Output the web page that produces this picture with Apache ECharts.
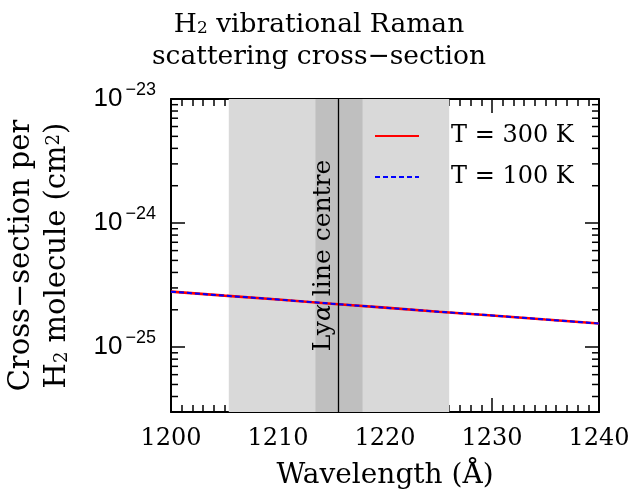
<!DOCTYPE html>
<html>
<head>
<meta charset="utf-8">
<script src="https://cdn.jsdelivr.net/npm/echarts@6/dist/echarts.min.js"></script>
<style>
  html, body { margin: 0; padding: 0; background: #fff; }
  #chart { width: 638px; height: 498px; }
</style>
</head>
<body>
<div id="chart"></div>
<script>
// Wavelength grid (Angstrom) and Raman cross-sections per H2 molecule (cm^2)
const wavelength = [1200, 1205, 1210, 1215, 1220, 1225, 1230, 1235, 1240];
const sigmaT300 = [2.80e-25, 2.60e-25, 2.42e-25, 2.24e-25, 2.08e-25, 1.93e-25, 1.80e-25, 1.67e-25, 1.55e-25];
const sigmaT100 = [2.80e-25, 2.60e-25, 2.42e-25, 2.24e-25, 2.08e-25, 1.93e-25, 1.80e-25, 1.67e-25, 1.55e-25];

// Lyman-alpha centre and shaded wavelength windows
const lyaCentre = 1215.67;
const wideWindow = [1205.4, 1226.0];
const narrowWindow = [1213.5, 1217.9];

// Axis ranges
const xRange = [1200, 1240];
const xMajorStep = 10;
const yRange = [3e-26, 1e-23];
// Logarithmic minor ticks (2..9 within each decade)
const yMinorTicks = [
  4e-26, 5e-26, 6e-26, 7e-26, 8e-26, 9e-26,
  2e-25, 3e-25, 4e-25, 5e-25, 6e-25, 7e-25, 8e-25, 9e-25,
  2e-24, 3e-24, 4e-24, 5e-24, 6e-24, 7e-24, 8e-24, 9e-24
];

const SERIF = 'DejaVu Serif';
const SANS = 'Liberation Sans';
const BLACK = '#000';

// rich-text styles with sub/superscripts for a given base size and line height
function serifRich(size, lh) {
  const small = Math.round(size * 0.63);
  return {
    n: { fontFamily: SERIF, fontSize: size, fontWeight: 'normal', color: BLACK, lineHeight: lh },
    sub: { fontFamily: SERIF, fontSize: small, fontWeight: 'normal', color: BLACK, lineHeight: lh, verticalAlign: 'bottom', padding: [0, 0, Math.round(lh * 0.12), 0] },
    sup: { fontFamily: SERIF, fontSize: small, fontWeight: 'normal', color: BLACK, lineHeight: lh, verticalAlign: 'top', padding: [Math.round(lh * 0.17), 0, 0, 0] }
  };
}

// "10^n" labels at whole decades only
function powerLabel(v) {
  if (!(v > 0) || !isFinite(v)) return '';
  const e = Math.log10(v);
  const r = Math.round(e);
  if (Math.abs(e - r) > 1e-6) return '';
  return '{b|10}{s|\u2212' + (-r) + '}';
}

function xAxisCfg(pos, showLabels) {
  return {
    type: 'value', position: pos, min: xRange[0], max: xRange[1], interval: xMajorStep,
    axisLine: { show: true, onZero: false, lineStyle: { color: BLACK, width: 2 } },
    axisTick: { show: true, inside: true, length: 14, lineStyle: { color: BLACK, width: 1.5 } },
    minorTick: { show: true, splitNumber: 10, length: 7, lineStyle: { color: BLACK, width: 1.5 } },
    splitLine: { show: false }, minorSplitLine: { show: false },
    axisLabel: {
      show: showLabels, margin: 15, fontFamily: SERIF, fontSize: 24, color: BLACK,
      formatter: v => String(v)
    }
  };
}

function yAxisCfg(pos, showLabels) {
  return {
    type: 'log', logBase: 10, position: pos, min: yRange[0], max: yRange[1],
    axisLine: { show: true, onZero: false, lineStyle: { color: BLACK, width: 2 } },
    axisTick: { show: true, inside: true, length: 14, lineStyle: { color: BLACK, width: 1.5 } },
    minorTick: { show: false },
    splitLine: { show: false },
    axisLabel: {
      show: showLabels, interval: 0, margin: 15, formatter: powerLabel,
      rich: {
        b: { fontFamily: SANS, fontSize: 26, color: BLACK, lineHeight: 36 },
        s: { fontFamily: SANS, fontSize: 18, color: BLACK, lineHeight: 18, verticalAlign: 'top', padding: [0, 0, 0, 3] }
      }
    }
  };
}

const chart = echarts.init(document.getElementById('chart'), null, { renderer: 'canvas' });

chart.setOption({
  animation: false,
  backgroundColor: '#fff',
  title: {
    text: '{n|H}{sub|2}{n| vibrational Raman}\n{n|scattering cross\u2212section}',
    left: 'center', top: 4,
    textStyle: { rich: serifRich(26.5, 32), fontFamily: SERIF, fontSize: 26.5, fontWeight: 'normal', color: BLACK, lineHeight: 32 }
  },
  grid: { left: 171, right: 39, top: 99, bottom: 86, containLabel: false, outerBoundsMode: 'none' },
  legend: {
    orient: 'vertical', left: 374, top: 122, padding: 0,
    itemWidth: 44, itemHeight: 20, itemGap: 13,
    data: ['T = 300 K', 'T = 100 K'],
    itemStyle: { opacity: 0 },
    textStyle: { fontFamily: SERIF, fontSize: 24, color: BLACK, lineHeight: 28, padding: [0, 0, 0, 27] }
  },
  xAxis: [
    Object.assign(xAxisCfg('bottom', true), {
      name: 'Wavelength (\u00C5)', nameLocation: 'middle', nameGap: 50,
      nameTextStyle: { fontFamily: SERIF, fontSize: 28, color: BLACK }
    }),
    xAxisCfg('top', false)
  ],
  yAxis: [
    Object.assign(yAxisCfg('left', true), {
      name: '{n|Cross\u2212section per}\n{n|H}{sub|2}{n| molecule (cm}{sup|2}{n|)}',
      nameLocation: 'middle', nameGap: 96, nameRotate: 90, nameMoveOverlap: false,
      nameTextStyle: { rich: serifRich(29, 36), fontFamily: SERIF, fontSize: 29, color: BLACK, lineHeight: 36 }
    }),
    yAxisCfg('right', false)
  ],
  series: [
    {
      name: 'T = 300 K', type: 'line', xAxisIndex: 0, yAxisIndex: 0,
      data: wavelength.map((w, i) => [w, sigmaT300[i]]),
      showSymbol: false, symbol: 'none', z: 3,
      lineStyle: { color: '#ff0000', width: 2.6, type: 'solid' },
      itemStyle: { color: '#ff0000' },
      markArea: {
        silent: true,
        data: [
          [{ xAxis: wideWindow[0], itemStyle: { color: '#d9d9d9' } }, { xAxis: wideWindow[1] }],
          [{ xAxis: narrowWindow[0], itemStyle: { color: '#bfbfbf' } }, { xAxis: narrowWindow[1] }]
        ]
      },
      markLine: {
        silent: true, symbol: 'none', animation: false,
        lineStyle: { color: BLACK, width: 1.3, type: 'solid' },
        label: {
          show: true, position: 'insideMiddleTop', distance: 3,
          formatter: '{n|Ly}{a|\u03B1}{n| line centre}',
          rich: {
            n: { fontFamily: SERIF, fontSize: 25, color: BLACK },
            a: { fontFamily: SERIF, fontSize: 25, color: BLACK, fontStyle: 'italic' }
          }
        },
        data: [{ xAxis: lyaCentre }]
      }
    },
    {
      name: 'T = 100 K', type: 'line', xAxisIndex: 0, yAxisIndex: 0,
      data: wavelength.map((w, i) => [w, sigmaT100[i]]),
      showSymbol: false, symbol: 'none', z: 4,
      lineStyle: { color: '#0000ff', width: 2, type: [5, 3] },
      itemStyle: { color: '#0000ff' }
    },
    {
      // minor log ticks on the left and right frame edges
      name: 'minor-ticks', type: 'custom', xAxisIndex: 0, yAxisIndex: 0,
      silent: true, z: 5, clip: false,
      data: yMinorTicks.map(v => [xRange[0], v]),
      renderItem: function (params, api) {
        const pl = api.coord([xRange[0], api.value(1)]);
        const pr = api.coord([xRange[1], api.value(1)]);
        const st = { stroke: BLACK, lineWidth: 1.5 };
        return {
          type: 'group',
          children: [
            { type: 'line', shape: { x1: pl[0], y1: pl[1], x2: pl[0] + 7, y2: pl[1] }, style: st },
            { type: 'line', shape: { x1: pr[0], y1: pr[1], x2: pr[0] - 7, y2: pr[1] }, style: st }
          ]
        };
      }
    }
  ]
});
</script>
</body>
</html>
